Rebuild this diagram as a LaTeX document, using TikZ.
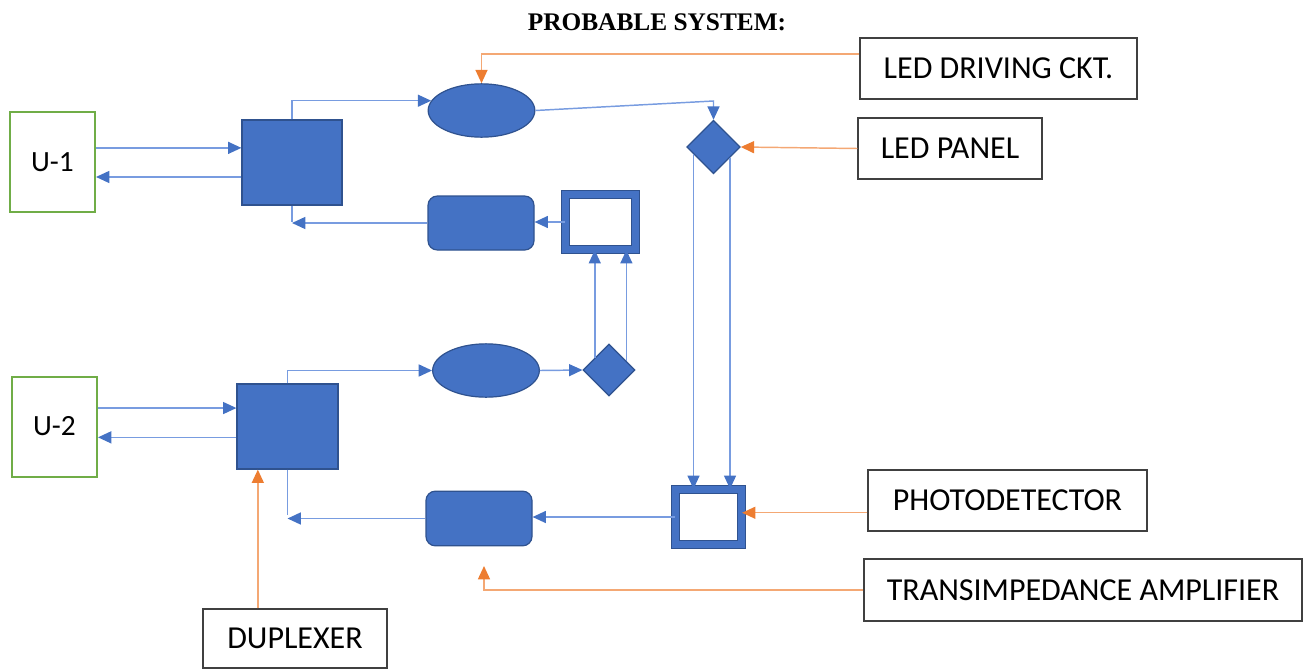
\documentclass[tikz,border=0pt]{standalone}
\usepackage{fontspec}
\setmainfont{Carlito}
\newfontfamily\titlefont{Liberation Serif}
\usetikzlibrary{arrows.meta,shapes.geometric}

\definecolor{shapeblue}{RGB}{68,114,196}
\definecolor{edgeblue}{RGB}{47,82,143}
\definecolor{lineblue}{RGB}{120,156,224}
\definecolor{tipblue}{RGB}{68,114,196}
\definecolor{lineorange}{RGB}{244,168,116}
\definecolor{tiporange}{RGB}{237,125,49}
\definecolor{boxgreen}{RGB}{112,173,71}
\definecolor{boxgray}{RGB}{64,64,64}

\tikzset{
  blueshape/.style={draw=edgeblue, fill=shapeblue, line width=0.9pt, inner sep=0pt},
  framebox/.style={draw=edgeblue, line width=0.9pt, double=shapeblue, double distance=5pt, fill=white, inner sep=0pt},
  ubox/.style={draw=boxgreen, line width=1.5pt, fill=white, inner sep=0pt, minimum width=63.75pt, minimum height=75pt, font=\fontsize{22}{26}\selectfont},
  labelbox/.style={draw=boxgray, line width=0.9pt, fill=white, inner sep=0pt, minimum height=45.75pt, font=\fontsize{24}{28}\selectfont},
  blueline/.style={draw=lineblue, line width=1.1pt},
  bluearrow/.style={blueline, -{Triangle[length=10pt,width=9pt,color=tipblue]}},
  orangearrow/.style={draw=lineorange, line width=1.1pt, -{Triangle[length=10pt,width=9pt,color=tiporange]}}
}

\begin{document}
\begin{tikzpicture}[x=0.75pt,y=0.75pt,yscale=-1]
\useasboundingbox (0,0) rectangle (1307,668);

% Title
\node (title) at (657,22) {\titlefont\bfseries\fontsize{19}{22}\selectfont PROBABLE SYSTEM:};

%Shape: Users
\node [ubox] (u1) at (52.5,162) {U-1};
\node [ubox] (u2) at (54.5,426.5) {U-2};

%Shape: Squares
\node [blueshape, minimum width=75pt, minimum height=63.75pt] (sq1) at (292,162.5) {};
\node [blueshape, minimum width=75.75pt, minimum height=63.75pt] (sq2) at (287.5,426.5) {};

%Shape: Ellipses
\node [blueshape, ellipse, minimum width=80pt, minimum height=40pt] (el1) at (481.5,110.5) {};
\node [blueshape, ellipse, minimum width=80pt, minimum height=40pt] (el2) at (486,370.5) {};

%Shape: Rounded Rectangles
\node [blueshape, rounded corners=7pt, minimum width=79.5pt, minimum height=40.5pt] (rr1) at (481,223) {};
\node [blueshape, rounded corners=7pt, minimum width=79.5pt, minimum height=41pt] (rr2) at (479,518.5) {};

%Shape: Frames
\node [framebox, minimum width=52.5pt, minimum height=41.25pt] (db1) at (600.5,222) {};
\node [framebox, minimum width=49.5pt, minimum height=41.25pt] (db2) at (708.5,517) {};

%Shape: Diamonds
\node [blueshape, diamond, minimum width=40pt, minimum height=40pt] (dia1) at (713.5,147) {};
\node [blueshape, diamond, minimum width=39pt, minimum height=39pt] (dia2) at (609,370) {};

% Text Node
\node [labelbox, minimum width=207.75pt] (drv) at (998.5,68.5) {LED DRIVING CKT.};
% Text Node
\node [labelbox, minimum width=138pt] (panel) at (950,148.5) {LED PANEL};
% Text Node
\node [labelbox, minimum width=209.25pt] (pd) at (1007.5,500.5) {PHOTODETECTOR};
% Text Node
\node [labelbox, minimum width=328.5pt, minimum height=46.5pt] (tia) at (1083,590) {TRANSIMPEDANCE AMPLIFIER};
% Text Node
\node [labelbox, minimum width=138pt, minimum height=44.25pt] (dup) at (295,638.5) {DUPLEXER};

\coordinate (bend1) at (713.5,101);
\coordinate (tiaend) at (484,566);

%Straight Lines: upper path
\draw [bluearrow] (u1.18) -- (u1.18 -| sq1.west);
\draw [bluearrow] (u1.-19 -| sq1.west) -- (u1.-19);
\draw [bluearrow] (sq1.north) |- (el1.169);
\draw [bluearrow] (el1.east) -- (bend1) -- (dia1.north);
\draw [bluearrow] (dia1.200) -- (dia1.200 |- db2.north);
\draw [bluearrow] (dia1.-33) -- (dia1.-33 |- db2.north);
\draw [bluearrow] (db1.west) -- (db1.west -| rr1.east);
\draw [blueline] (sq1.south) -- ([yshift=-1pt]sq1.south |- rr1.west);
\draw [bluearrow] (rr1.west) -- (sq1.south |- rr1.west);

%Straight Lines: lower path
\draw [bluearrow] (u2.23) -- (u2.23 -| sq2.west);
\draw [bluearrow] (u2.-14 -| sq2.west) -- (u2.-14);
\draw [bluearrow] (sq2.north) |- (el2.west);
\draw [bluearrow] (el2.east) -- (dia2.west);
\draw [bluearrow] (dia2.139) -- (dia2.139 |- db1.south);
\draw [bluearrow] (dia2.28) -- (dia2.28 |- db1.south);
\draw [bluearrow] (db2.west) -- (db2.west -| rr2.east);
\draw [blueline] (sq2.south) -- ([yshift=-3pt]sq2.south |- rr2.west);
\draw [bluearrow] (rr2.west) -- (sq2.south |- rr2.west);

%Straight Lines: labels
\draw [orangearrow] (drv.174) -| (el1.north);
\draw [orangearrow] (panel.west) -- (dia1.east);
\draw [orangearrow] (pd.185) -- (pd.185 -| db2.east);
\draw [orangearrow] (tia.west) -| (tiaend);
\draw [orangearrow] (dup.141) -- (dup.141 |- sq2.south);

\end{tikzpicture}
\end{document}
